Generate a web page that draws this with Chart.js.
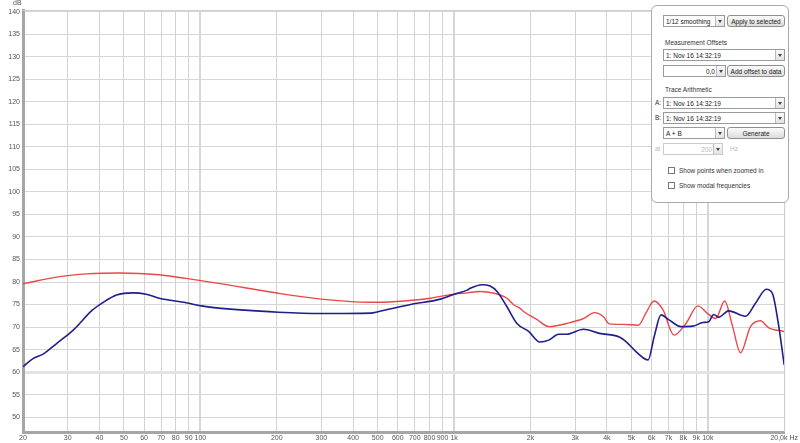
<!DOCTYPE html>
<html>
<head>
<meta charset="utf-8">
<script src="https://cdn.jsdelivr.net/npm/chart.js@4.4.0/dist/chart.umd.min.js"></script>
<style>
  html, body { margin: 0; padding: 0; background: #fff; }
  #wrap { position: relative; width: 800px; height: 443px; }
  #panel {
    position: absolute; left: 651px; top: 5px; width: 136px; height: 196px;
    border: 1px solid #a9a9a9; border-radius: 6px; background: #fff;
    font-family: "Liberation Sans", Arial, sans-serif; font-size: 6.5px; color: #222;
  }
  #panel div { position: absolute; box-sizing: border-box; white-space: nowrap; }
  .sel { background: #fff; border: 1px solid #9a9a9a; padding: 2px 0 0 2px; height: 12px; }
  .sel .arr { position: absolute; right: 0; top: 0; width: 9px; height: 10px; border-left: 1px solid #bbb;
              background: linear-gradient(#fafafa, #e2e2e2); }
  .sel .arr:after { content: ""; position: absolute; left: 2px; top: 4px; border: 2px solid transparent;
                    border-top: 3px solid #444; }
  .btn { border: 1px solid #8f8f8f; border-radius: 3px; background: linear-gradient(#fbfbfb, #dcdcdc);
         text-align: center; padding-top: 2px; height: 12px; }
  .lab { color: #333; }
  .chk { width: 7px; height: 7px; border: 1px solid #777; background: #fff; }
</style>
</head>
<body>
<div id="wrap">
  <canvas id="fr"></canvas>
  <div id="panel">
    <div class="sel" style="left:11px;top:9px;width:62px;">1/12 smoothing<div class="arr"></div></div>
    <div class="btn" style="left:75px;top:9px;width:58px;">Apply to selected</div>
    <div class="lab" style="left:13px;top:33px;">Measurement Offsets</div>
    <div class="sel" style="left:11px;top:43px;width:122px;">1: Nov 16 14:32:19<div class="arr"></div></div>
    <div class="sel" style="left:11px;top:59px;width:63px;text-align:right;padding-right:10px;">0,0<div class="arr" style="height:10px;"></div></div>
    <div class="btn" style="left:75px;top:59px;width:58px;">Add offset to data</div>
    <div class="lab" style="left:13px;top:80px;">Trace Arithmetic</div>
    <div class="lab" style="left:3px;top:93px;">A:</div>
    <div class="sel" style="left:11px;top:91px;width:122px;">1: Nov 16 14:32:19<div class="arr"></div></div>
    <div class="lab" style="left:3px;top:108px;">B:</div>
    <div class="sel" style="left:11px;top:106px;width:122px;">1: Nov 16 14:32:19<div class="arr"></div></div>
    <div class="sel" style="left:11px;top:121px;width:62px;">A + B<div class="arr"></div></div>
    <div class="btn" style="left:75px;top:121px;width:58px;">Generate</div>
    <div class="lab" style="left:3px;top:139px;color:#bbb;">at</div>
    <div class="sel" style="left:11px;top:137px;width:60px;text-align:right;padding-right:10px;color:#bbb;border-color:#ccc;">200<div class="arr"></div></div>
    <div class="lab" style="left:78px;top:139px;color:#bbb;">Hz</div>
    <div class="chk" style="left:16px;top:161px;"></div>
    <div class="lab" style="left:27px;top:161px;">Show points when zoomed in</div>
    <div class="chk" style="left:16px;top:176px;"></div>
    <div class="lab" style="left:27px;top:176px;">Show modal frequencies</div>
  </div>
</div>
<script>
// curva roja (Hz / dB)
const redFreq = [20, 27.9, 35.6, 48, 68.8, 87.8, 118, 203, 299, 407, 501, 638, 807, 967, 1127, 1267,
  1438, 1616, 1722, 1817, 1884, 2118, 2362, 2777, 3238, 3576, 3878, 4093, 4644, 5318, 5714, 6142,
  6662, 7356, 8200, 9132, 9992, 10744, 11656, 12524, 13460, 14732, 16120, 17332, 20000];
const redDb = [79.6, 81.2, 81.8, 82.0, 81.6, 80.8, 79.7, 77.5, 76.2, 75.6, 75.5, 75.8, 76.4, 77.2, 77.6, 77.9,
  77.5, 76.4, 74.9, 74.2, 73.4, 71.7, 70.1, 70.8, 71.9, 73.2, 72.3, 70.7, 70.6, 70.4, 73.2, 75.8,
  73.8, 68.2, 70.8, 74.7, 73.0, 71.9, 75.8, 70.1, 64.3, 70.1, 71.4, 69.9, 69.0];
// curva azul
const blueFreq = [20, 21.9, 24, 27.2, 31.4, 37.6, 41.2, 46.7, 54, 61.2, 68.8, 87.8, 101, 118, 203, 299,
  470, 501, 674, 884, 1002, 1127, 1158, 1290, 1387, 1477, 1616, 1769, 1972, 2176, 2362, 2584, 2777,
  3238, 3740, 4480, 4772, 5222, 5818, 6142, 6542, 7032, 7834, 8730, 9554, 10084, 10552, 11040, 12080,
  14080, 15412, 17020, 17966, 18964, 20000];
const blueDb = [61.2, 63.0, 64.0, 66.4, 69.2, 73.8, 75.4, 77.1, 77.6, 77.3, 76.4, 75.4, 74.7, 74.2, 73.3, 73.0,
  73.1, 73.4, 75.0, 76.2, 77.3, 78.2, 78.6, 79.4, 79.1, 77.9, 74.5, 70.8, 69.0, 66.7, 67.1, 68.4, 68.4,
  69.5, 68.6, 67.8, 66.7, 64.5, 62.7, 67.8, 72.7, 71.6, 70.1, 70.2, 71.0, 71.2, 72.8, 72.2, 73.6,
  72.4, 75.3, 78.4, 77.5, 70.8, 61.6];

const yMin = 46.7, yMax = 140.4;
const fMin = 20, fMax = 20000;
const decadas = [100, 1000, 10000];

function pares(f, d) {
  return f.map((x, i) => ({ x: x, y: d[i] }));
}

function etiqueta(v) {
  if (v === 20000) return "20,0k Hz";
  if (v >= 1000) return (v / 1000) + "k";
  return String(v);
}

// solo 1..9 x 10^n
function soloEnteros(s) {
  s.ticks = s.ticks.filter((t) => {
    const p = Math.pow(10, Math.floor(Math.log10(t.value) + 1e-9));
    return Math.abs(t.value / p - Math.round(t.value / p)) < 1e-6;
  });
}

const marco = {
  id: "marco",
  afterDraw(chart) {
    const c = chart.ctx, a = chart.chartArea;
    c.save();
    c.strokeStyle = "#cfcfcf";
    c.lineWidth = 1;
    c.beginPath();
    c.moveTo(a.left, a.top + 0.5);
    c.lineTo(a.right + 0.5, a.top + 0.5);
    c.lineTo(a.right + 0.5, a.bottom);
    c.stroke();
    c.fillStyle = "#555";
    c.font = "7px 'Liberation Sans'";
    c.textBaseline = "top";
    c.fillText("dB", 13, 0);
    c.restore();
  }
};

new Chart(document.getElementById("fr").getContext("2d"), {
  type: "line",
  data: {
    datasets: [
      { data: pares(blueFreq, blueDb), borderColor: "#1e1e8c", borderWidth: 1.6 },
      { data: pares(redFreq, redDb), borderColor: "#ea4848", borderWidth: 1.4 }
    ]
  },
  options: {
    responsive: true,
    maintainAspectRatio: false,
    animation: false,
    parsing: false,
    layout: { padding: { top: 10, right: 11, left: 0, bottom: 0 } },
    elements: {
      point: { radius: 0 },
      line: { cubicInterpolationMode: "monotone" }
    },
    plugins: { legend: { display: false }, tooltip: { enabled: false } },
    scales: {
      x: {
        type: "logarithmic",
        min: fMin,
        max: fMax,
        afterBuildTicks: soloEnteros,
        afterFit: (s) => { s.height = 11; },
        grid: {
          drawTicks: false,
          color: (ctx) => decadas.includes(ctx.tick && ctx.tick.value) ? "#d6d6d6" : "#d2d2d2",
          lineWidth: (ctx) => decadas.includes(ctx.tick && ctx.tick.value) ? 2 : 1
        },
        border: { color: "#a6a6a6", width: 3 },
        ticks: {
          autoSkip: false,
          maxRotation: 0,
          minRotation: 0,
          padding: 2,
          color: "#555",
          font: { family: "Liberation Sans", size: 7 },
          callback: (v) => etiqueta(v)
        }
      },
      y: {
        min: yMin,
        max: yMax,
        afterFit: (s) => { s.width = 23; },
        grid: {
          drawTicks: false,
          color: (ctx) => ctx.tick && ctx.tick.value === 60 ? "#e4e4e4" : "#d6d6d6",
          lineWidth: (ctx) => ctx.tick && ctx.tick.value === 60 ? 3 : 1
        },
        border: { color: "#a6a6a6", width: 3 },
        ticks: {
          stepSize: 5,
          includeBounds: false,
          padding: 3,
          color: "#555",
          font: { family: "Liberation Sans", size: 7 }
        }
      }
    }
  },
  plugins: [marco]
});
</script>
</body>
</html>
